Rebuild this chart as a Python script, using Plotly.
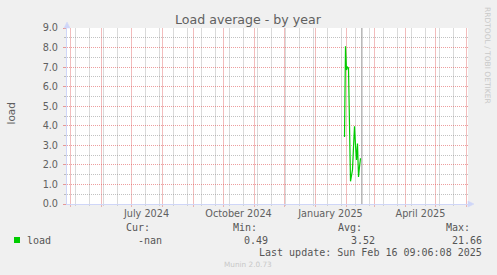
import plotly.graph_objects as go

# ---- data ----
dates = ["2025-01-30", "2025-01-31", "2025-02-01", "2025-02-02", "2025-02-03",
         "2025-02-04", "2025-02-05", "2025-02-06", "2025-02-07", "2025-02-08",
         "2025-02-09", "2025-02-10", "2025-02-11", "2025-02-12", "2025-02-13",
         "2025-02-14", "2025-02-15"]
load = [3.43, 8.06, 6.85, 7.0, 6.95, 4.2, 1.16, 1.45, 1.75, 2.9,
        3.98, 3.0, 2.25, 3.09, 1.38, 1.9, 2.34]
now_time = "2025-02-16 09:06:08"
x_range = ["2024-04-27 12:00", "2025-06-02 12:00"]
label_dates = ["2024-07-16", "2024-10-16", "2025-01-16", "2025-04-16"]
label_text = ["July 2024", "October 2024", "January 2025", "April 2025"]
month_starts = ["2024-05-01", "2024-06-01", "2024-07-01", "2024-08-01", "2024-09-01",
                "2024-10-01", "2024-11-01", "2024-12-01", "2025-01-01", "2025-02-01",
                "2025-03-01", "2025-04-01", "2025-05-01", "2025-06-01"]
biweekly = ["2024-05-06", "2024-05-20", "2024-06-03", "2024-06-17",
            "2024-07-15", "2024-07-29", "2024-08-12", "2024-08-26", "2024-09-09",
            "2024-09-23", "2024-10-07", "2024-10-21", "2024-11-04", "2024-11-18",
            "2024-12-02", "2024-12-16", "2024-12-30", "2025-01-13", "2025-01-27",
            "2025-02-10", "2025-02-24", "2025-03-10", "2025-03-24", "2025-04-07",
            "2025-04-21", "2025-05-05", "2025-05-19"]
y_max = 9
stat_headers = ["Cur:", "Min:", "Avg:", "Max:"]
stat_values = ["-nan", "0.49", "3.52", "21.66"]
series_name = "load"
title = "Load average - by year"
last_update = "Last update: Sun Feb 16 09:06:08 2025"
footer = "Munin 2.0.73"
side_text = "RRDTOOL / TOBI OETIKER"

# ---- geometry helpers (pixels -> paper) ----
W, H = 497, 275
L, R, T, B = 67, 468, 28, 204
def px(x):
    return (x - L) / (R - L)
def py(y):
    return (B - y) / (B - T)
TICK_RED = 3 / (B - T)
TICK_GRAY = 2 / (B - T)

FONT = "DejaVu Sans"
MONO = "DejaVu Sans Mono"
TXT = "#606060"
RED = "rgba(222,79,79,0.55)"
GRAY = "rgba(143,143,143,0.55)"
RED_V = "rgba(222,79,79,0.38)"
GRAY_V = "rgba(143,143,143,0.33)"
AXIS = "#CFD6F8"
GREEN = "#00CC00"

fig = go.Figure()
fig.add_trace(go.Scatter(x=dates, y=load, mode="lines",
                         line=dict(color=GREEN, width=1.2), showlegend=False,
                         hoverinfo="skip"))

fig.update_layout(
    width=W, height=H,
    margin=dict(l=L, r=W - R, t=T, b=H - B),
    paper_bgcolor="#F0F0F0", plot_bgcolor="#FFFFFF",
    font=dict(family=FONT, size=9.7, color=TXT),
    xaxis=dict(type="date", range=x_range, tickmode="array",
               tickvals=label_dates, ticktext=label_text, ticks="",
               showgrid=False, zeroline=False,
               showline=True, linecolor=AXIS, linewidth=1,
               tickfont=dict(family=FONT, size=9.7, color=TXT)),
    yaxis=dict(range=[0, y_max], dtick=1, tick0=0, tickformat=".1f",
               showgrid=True, gridcolor=RED, griddash="1px,1px",
               zeroline=False, showline=True, linecolor=AXIS,
               ticks="outside", ticklen=3, tickcolor=RED,
               ticklabelstandoff=3,
               tickfont=dict(family=FONT, size=9.7, color=TXT),
               minor=dict(dtick=0.5, showgrid=True, gridcolor=GRAY,
                          griddash="1px,1px", ticks="outside", ticklen=2,
                          tickcolor=GRAY)),
)

shapes = []
# vertical grid (minor gray, then major red) drawn through the x axis scale
for d in biweekly:
    shapes.append(dict(type="line", xref="x", yref="paper", x0=d, x1=d,
                       y0=-TICK_GRAY, y1=1, layer="below",
                       line=dict(color=GRAY_V, width=1)))
for d in month_starts:
    shapes.append(dict(type="line", xref="x", yref="paper", x0=d, x1=d,
                       y0=-TICK_RED, y1=1, layer="below",
                       line=dict(color=RED_V, width=1)))
# "now" line
shapes.append(dict(type="line", xref="x", yref="paper", x0=now_time, x1=now_time,
                   y0=0, y1=1, line=dict(color="#909090", width=1)))
# axis arrows
shapes.append(dict(type="path", xref="paper", yref="paper", layer="above",
                   path=f"M {px(64)} {py(28)} L {px(70)} {py(28)} L {px(67)} {py(22)} Z",
                   fillcolor=AXIS, line=dict(color=AXIS, width=0.5)))
shapes.append(dict(type="path", xref="paper", yref="paper", layer="above",
                   path=f"M {px(468)} {py(201)} L {px(468)} {py(207)} L {px(474)} {py(204)} Z",
                   fillcolor=AXIS, line=dict(color=AXIS, width=0.5)))
# legend square
shapes.append(dict(type="rect", xref="paper", yref="paper",
                   x0=px(14), x1=px(20), y0=py(243), y1=py(237),
                   fillcolor=GREEN, line=dict(color=GREEN, width=0)))
fig.update_layout(shapes=shapes)

ann = []
ann.append(dict(text=title, x=px(248), y=py(19), xref="paper", yref="paper",
                showarrow=False, xanchor="center", yanchor="middle",
                font=dict(family=FONT, size=12.6, color=TXT)))
ann.append(dict(text=series_name, x=px(10.5), y=py(114), xref="paper", yref="paper",
                showarrow=False, textangle=-90, xanchor="center", yanchor="middle",
                font=dict(family=FONT, size=10.5, color=TXT)))
ann.append(dict(text=side_text, x=px(487.5), y=py(5), xref="paper", yref="paper",
                showarrow=False, textangle=90, xanchor="center", yanchor="top",
                font=dict(family=FONT, size=7.5, color="#C8C8C8")))
head_right = [151, 258, 363, 471]
val_right = [163, 269, 376, 483]
for t, xr in zip(stat_headers, head_right):
    ann.append(dict(text=t, x=px(xr), y=py(227.5), xref="paper", yref="paper",
                    showarrow=False, xanchor="right", yanchor="middle", borderpad=0,
                    font=dict(family=MONO, size=10, color="#555555")))
for t, xr in zip(stat_values, val_right):
    ann.append(dict(text=t, x=px(xr), y=py(240), xref="paper", yref="paper",
                    showarrow=False, xanchor="right", yanchor="middle", borderpad=0,
                    font=dict(family=MONO, size=10, color="#555555")))
ann.append(dict(text=series_name, x=px(26), y=py(240), xref="paper", yref="paper",
                showarrow=False, xanchor="left", yanchor="middle", borderpad=0,
                font=dict(family=MONO, size=10, color="#555555")))
ann.append(dict(text=last_update, x=px(483), y=py(252), xref="paper", yref="paper",
                showarrow=False, xanchor="right", yanchor="middle", borderpad=0,
                font=dict(family=MONO, size=10, color="#555555")))
ann.append(dict(text=footer, x=px(248), y=py(264), xref="paper", yref="paper",
                showarrow=False, xanchor="center", yanchor="middle", borderpad=0,
                font=dict(family=FONT, size=7.3, color="#C8C8C8")))
fig.update_layout(annotations=ann)

fig.write_html("out.html")
